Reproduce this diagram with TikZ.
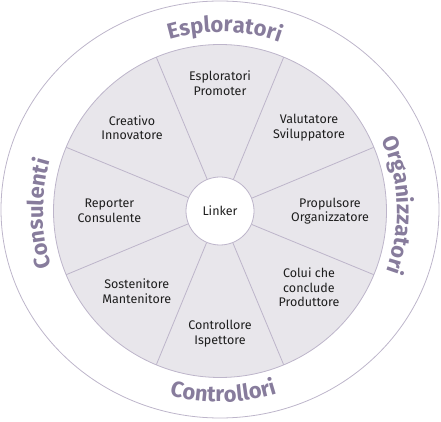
\documentclass[tikz,border=0pt]{standalone}
\usepackage{fontspec}
\setmainfont{Fira Sans}
\usetikzlibrary{decorations.text}
\definecolor{wheelgrey}{HTML}{E8E6EB}
\definecolor{wheelline}{HTML}{BDB5CA}
\definecolor{grouptext}{HTML}{877C9C}
\definecolor{roletext}{HTML}{1E1E1E}
\tikzset{
  role/.style={align=center, text=roletext, font=\fontsize{12.5}{14.7}\selectfont},
  group/.style={decorate, decoration={text along path, text align=center,
      text color=grouptext, text={|\fontsize{22}{22}\selectfont\bfseries|#1}}},
  wheel/.style={draw=wheelline, line width=0.8pt}
}

\begin{document}
\begin{tikzpicture}[x=1pt, y=1pt]
            \useasboundingbox (-220,-211) rectangle (221,211);
            \draw[wheel] (0,1.5) ellipse[x radius=219, y radius=208.5];
            \fill[wheelgrey, wheel] (0,0) circle[radius=166.5];
            \node[circle, wheel, fill=white, minimum size=68pt, inner sep=0pt, role] (linker) at (0,0) {Linker};
            \foreach \a in {22.5,67.5,...,337.5}
                \draw[wheel] (linker.\a) -- (\a:166.5);
            \node[role] (promoter) at (0,127.7) {Esploratori\\Promoter};
            \node[role] (sviluppatore) at (89,83.3) {Valutatore\\Sviluppatore};
            \node[role] (organizzatore) at (110,0) {Propulsore\\Organizzatore};
            \node[role] (produttore) at (89,-76.3) {Colui che\\conclude\\Produttore};
            \node[role] (ispettore) at (0,-122.7) {Controllore\\Ispettore};
            \node[role] (mantenitore) at (-83.3,-80) {Sostenitore\\Mantenitore};
            \node[role] (consulente) at (-110.6,0) {Reporter\\Consulente};
            \node[role] (innovatore) at (-88,83.3) {Creativo\\Innovatore};
            \path[group=Esploratori] (115:179) arc[start angle=115, end angle=62, radius=179];
            \path[group=Organizzatori] (32:177) arc[start angle=32, end angle=-28, radius=177];
            \path[group=Controllori] (239:191) arc[start angle=239, end angle=303, radius=191];
            \path[group=Consulenti] (208:177) arc[start angle=208, end angle=154, radius=177];
\end{tikzpicture}
\end{document}
